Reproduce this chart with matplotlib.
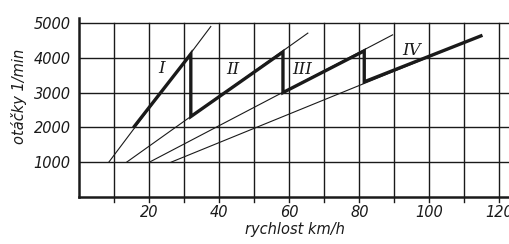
import matplotlib.pyplot as plt
import numpy as np

# gear ratio lines (thin), speed km/h vs engine rpm
gear_names = ['I', 'II', 'III', 'IV']
gear_speed = [[8.5, 37.6], [13.6, 65.3], [20.1, 89.5], [26.3, 114.7]]
gear_rpm = [[1000, 4900], [1000, 4710], [1000, 4660], [1000, 4630]]

# shifting path (thick)
shift_speed = [15.8, 31.9, 31.9, 58.2, 58.2, 81.4, 81.4, 114.7]
shift_rpm = [2030, 4110, 2310, 4170, 3000, 4200, 3310, 4630]

# roman numeral label positions
label_speed = [23.6, 43.9, 63.8, 94.9]
label_rpm = [3700, 3650, 3650, 4220]

ink = '#1a1a1a'

fig = plt.figure(figsize=(5.1, 2.44), dpi=100)
ax = fig.add_axes([0.155, 0.193, 0.845, 0.734])

ax.set_xlim(0, 123)
ax.set_ylim(0, 5150)

# grid, vertical lines poke a little below the axis
for x in np.arange(10, 121, 10):
    ax.plot([x, x], [-150, 5000], color=ink, lw=1.0, zorder=1, clip_on=False)
for y in np.arange(1000, 5001, 1000):
    ax.axhline(y, color=ink, lw=1.0, zorder=1)

for sp, l in zip(gear_speed, gear_rpm):
    ax.plot(sp, l, color=ink, lw=0.8, zorder=2)
ax.plot(shift_speed, shift_rpm, color=ink, lw=2.4, zorder=3, solid_joinstyle='miter')

for name, sx, sy in zip(gear_names, label_speed, label_rpm):
    ax.text(sx, sy, name, family='DejaVu Serif', style='italic', fontsize=12,
            ha='center', va='center', color=ink)

for s in ['top', 'right']:
    ax.spines[s].set_visible(False)
ax.spines['left'].set_linewidth(1.8)
ax.spines['bottom'].set_linewidth(1.8)
ax.spines['left'].set_color(ink)
ax.spines['bottom'].set_color(ink)

ax.set_xticks([20, 40, 60, 80, 100, 120])
ax.set_yticks([1000, 2000, 3000, 4000, 5000])
ax.tick_params(length=0, pad=6, colors=ink)
for t in ax.get_xticklabels() + ax.get_yticklabels():
    t.set_fontstyle('italic')
    t.set_fontsize(10.5)

ax.set_xlabel('rychlost km/h', fontstyle='italic', fontsize=10.5, color=ink, labelpad=1)
ax.set_ylabel('otáčky 1/min', fontstyle='italic', fontsize=10.5, color=ink)
ax.yaxis.set_label_coords(-0.12, 0.56)

fig.savefig('out.png', dpi=100)
